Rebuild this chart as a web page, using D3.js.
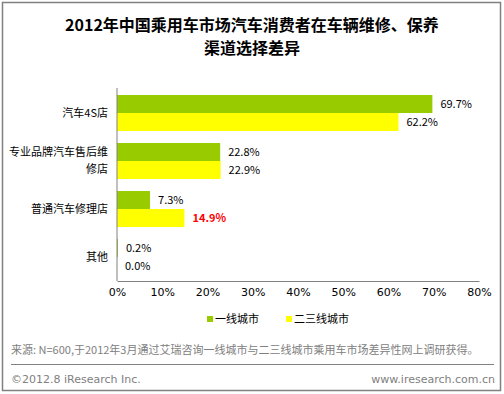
<!DOCTYPE html>
<html>
<head>
<meta charset="utf-8">
<script src="https://cdn.jsdelivr.net/npm/d3@7"></script>
<style>
  body { margin: 0; background: #fff; }
  text { font-family: "Noto Sans CJK SC", "DejaVu Sans", sans-serif; }
</style>
</head>
<body>
<div id="chart"></div>
<script>
// data
var categories = ["汽车4S店", "专业品牌汽车售后维修店", "普通汽车修理店", "其他"];
var catLines = [["汽车4S店"], ["专业品牌汽车售后维", "修店"], ["普通汽车修理店"], ["其他"]];
var seriesNames = ["一线城市", "二三线城市"];
var tier1 = [69.7, 22.8, 7.3, 0.2];
var tier23 = [62.2, 22.9, 14.9, 0.0];
var xTicks = [0, 10, 20, 30, 40, 50, 60, 70, 80];
var colors = ["#99cc00", "#ffff00"];

var W = 504, H = 394;

var svg = d3.select("#chart").append("svg")
    .attr("width", W)
    .attr("height", H);

// outer frame
svg.append("rect")
    .attr("x", 2.5).attr("y", 2.5)
    .attr("width", 498).attr("height", 388)
    .attr("fill", "#fff")
    .attr("stroke", "#808080")
    .attr("stroke-width", 1.5);

// title
svg.append("text")
    .attr("x", 252).attr("y", 31)
    .attr("text-anchor", "middle")
    .attr("font-size", 16).attr("font-weight", "bold")
    .text("2012年中国乘用车市场汽车消费者在车辆维修、保养");
svg.append("text")
    .attr("x", 252).attr("y", 54)
    .attr("text-anchor", "middle")
    .attr("font-size", 16).attr("font-weight", "bold")
    .text("渠道选择差异");

var xScale = d3.scaleLinear().domain([0, 80]).range([117, 479]);
var yBand = d3.scaleBand().domain(categories).range([89, 281]).paddingInner(0.25).paddingOuter(0.125);
var ySub = d3.scaleBand().domain([0, 1]).range([0, yBand.bandwidth()]);

var rows = categories.map(function(c, i) {
  return {cat: c, lines: catLines[i], vals: [tier1[i], tier23[i]]};
});

// bars
var group = svg.selectAll(".grp")
    .data(rows)
    .enter().append("g")
    .attr("class", "grp")
    .attr("transform", function(d) { return "translate(0," + yBand(d.cat) + ")"; });

group.selectAll("rect")
    .data(function(d) { return d.vals; })
    .enter().append("rect")
    .attr("x", xScale(0))
    .attr("y", function(d, i) { return ySub(i); })
    .attr("width", function(d) { return xScale(d) - xScale(0); })
    .attr("height", ySub.bandwidth())
    .attr("fill", function(d, i) { return colors[i]; });

// value labels (the 14.9% one is highlighted red)
function isHighlight(d) { return d.cat === "普通汽车修理店" && d.i === 1; }
group.selectAll("text.val")
    .data(function(d) { return d.vals.map(function(v, i) { return {v: v, i: i, cat: d.cat}; }); })
    .enter().append("text")
    .attr("class", "val")
    .attr("x", function(d) { return xScale(d.v) + 8; })
    .attr("y", function(d) { return ySub(d.i) + ySub.bandwidth() / 2; })
    .attr("dy", "0.35em")
    .attr("font-size", 11)
    .attr("fill", function(d) { return isHighlight(d) ? "#ff0000" : "#000"; })
    .attr("font-weight", function(d) { return isHighlight(d) ? "bold" : "normal"; })
    .text(function(d) { return d.v.toFixed(1) + "%"; });

// category labels
var catText = svg.selectAll("text.cat")
    .data(rows)
    .enter().append("text")
    .attr("class", "cat")
    .attr("text-anchor", "end")
    .attr("font-size", 11)
    .attr("y", function(d) { return yBand(d.cat) + yBand.bandwidth() / 2 - (d.lines.length - 1) * 8.5; });
catText.selectAll("tspan")
    .data(function(d) { return d.lines; })
    .enter().append("tspan")
    .attr("x", 108)
    .attr("dy", function(d, i) { return i === 0 ? "0.35em" : 17; })
    .text(function(d) { return d; });

// axes
svg.append("line")
    .attr("x1", xScale(0)).attr("x2", xScale(0))
    .attr("y1", 88).attr("y2", 281)
    .attr("stroke", "#808080");

var xAxis = d3.axisBottom(xScale)
    .tickValues(xTicks)
    .tickSize(0)
    .tickPadding(7)
    .tickFormat(function(d) { return d + "%"; });

var gx = svg.append("g")
    .attr("transform", "translate(0,281)")
    .call(xAxis);
gx.select(".domain").attr("stroke", "#808080");
gx.selectAll("text")
    .attr("font-size", 11)
    .attr("fill", "#000")
    .style("font-family", "\"DejaVu Sans\", sans-serif");

// legend
var legX = [207, 286];
seriesNames.forEach(function(name, i) {
  svg.append("rect")
      .attr("x", legX[i]).attr("y", 316)
      .attr("width", 6).attr("height", 6)
      .attr("fill", colors[i]);
  svg.append("text")
      .attr("x", legX[i] + 8).attr("y", 319)
      .attr("dy", "0.35em")
      .attr("font-size", 11)
      .text(name);
});

// source
svg.append("text")
    .attr("x", 11).attr("y", 350)
    .attr("dy", "0.35em")
    .attr("font-size", 11)
    .attr("fill", "#808080")
    .text("来源: N=600,于2012年3月通过艾瑞咨询一线城市与二三线城市乘用车市场差异性网上调研获得。");

svg.append("line")
    .attr("x1", 11).attr("x2", 494)
    .attr("y1", 364.5).attr("y2", 364.5)
    .attr("stroke", "#808080");

svg.append("text")
    .attr("x", 11).attr("y", 379)
    .attr("dy", "0.35em")
    .attr("font-size", 11)
    .attr("fill", "#808080")
    .style("font-family", "\"DejaVu Sans\", sans-serif")
    .text("©2012.8 iResearch Inc.");
svg.append("text")
    .attr("x", 495).attr("y", 379)
    .attr("dy", "0.35em")
    .attr("text-anchor", "end")
    .attr("font-size", 11)
    .attr("fill", "#808080")
    .style("font-family", "\"DejaVu Sans\", sans-serif")
    .text("www.iresearch.com.cn");
</script>
</body>
</html>
